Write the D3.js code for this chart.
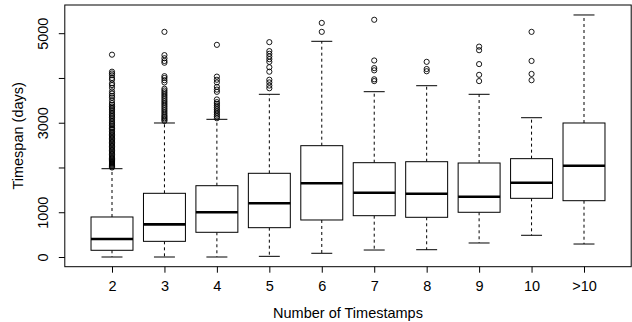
<!DOCTYPE html>
<html><head><meta charset="utf-8">
<script src="https://cdn.jsdelivr.net/npm/d3@7"></script>
<style>body{margin:0;background:#fff}svg{display:block}text{font-family:"Liberation Sans",Arial,sans-serif;fill:#000}</style>
</head><body>
<script>
const categories = ["2","3","4","5","6","7","8","9","10",">10"];
const lowerWhisker = [0, 0, 0, 15, 83, 156, 163, 313, 485, 290];
const q1 =           [150, 350, 552, 655, 827, 923, 887, 999, 1311, 1258];
const median =       [402, 730, 999, 1200, 1647, 1437, 1414, 1347, 1660, 2040];
const q3 =           [894, 1423, 1593, 1870, 2487, 2107, 2129, 2100, 2197, 2994];
const upperWhisker = [1973, 2994, 3076, 3635, 4819, 3693, 3827, 3635, 3112, 5407];
const outliers = [
  [4520,4140,4100,4060,4000,3960,3880,3840,3780,3700,3650,3600,3560,3500,3440,3400,3360,3330,3300,3260,3220,3180,3150,3120,3080,3040,3000,2970,2940,2900,2870,2840,2800,2770,2740,2710,2680,2650,2620,2590,2560,2530,2500,2470,2440,2410,2380,2350,2320,2290,2260,2230,2200,2180,2160,2140,2120,2100,2080,2060,2040,2020,2000],
  [5030,4510,4440,4380,4340,4040,4000,3950,3900,3760,3720,3680,3640,3600,3560,3520,3480,3440,3400,3360,3320,3280,3240,3200,3160,3130,3100,3070,3040],
  [4740,4030,3960,3900,3800,3740,3690,3520,3460,3420,3380,3340,3300,3260,3220,3180,3140,3100],
  [4800,4600,4540,4480,4420,4360,4240,4140,3960,3900,3830,3770],
  [5230,5030],
  [5300,4390,4220,4170,3970,3930],
  [4360,4200,4150],
  [4700,4620,4310,4070,3930],
  [5030,4380,4090,3950],
  []
];
const yTicks = [0,1000,2000,3000,4000,5000];
const yTickLabels = ["0","1000","","3000","","5000"];
const xTitle = "Number of Timestamps";
const yTitle = "Timespan (days)";

(function () {
const W = 632, H = 322, FS = "14.5px";
const svg = d3.select("body").append("svg").attr("width", W).attr("height", H);

const x = d3.scaleLinear().domain([1, 10]).range([112, 584]);
const y = d3.scaleLinear().domain([0, 5000]).range([257, 33.2]);
const pl = x(0.1), pr = x(10.9), pt = 5, pb = 266.7;
const unit = x(2) - x(1);
const bw = unit * 0.8, sw = bw / 2;

svg.append("rect").attr("x", pl).attr("y", pt).attr("width", pr - pl).attr("height", pb - pt)
  .attr("fill", "none").attr("stroke", "#000").attr("stroke-width", 1);

const g = svg.append("g");
categories.forEach((c, i) => {
  const cx = x(i + 1);
  const gg = g.append("g");
  gg.append("line").attr("x1", cx).attr("x2", cx).attr("y1", y(q3[i])).attr("y2", y(upperWhisker[i]))
    .attr("stroke", "#000").attr("stroke-dasharray", "3,3");
  gg.append("line").attr("x1", cx).attr("x2", cx).attr("y1", y(q1[i])).attr("y2", y(lowerWhisker[i]))
    .attr("stroke", "#000").attr("stroke-dasharray", "3,3");
  gg.append("line").attr("x1", cx - sw/2).attr("x2", cx + sw/2).attr("y1", y(upperWhisker[i])).attr("y2", y(upperWhisker[i]))
    .attr("stroke", "#000");
  gg.append("line").attr("x1", cx - sw/2).attr("x2", cx + sw/2).attr("y1", y(lowerWhisker[i])).attr("y2", y(lowerWhisker[i]))
    .attr("stroke", "#000");
  gg.append("rect").attr("x", cx - bw/2).attr("y", y(q3[i])).attr("width", bw).attr("height", y(q1[i]) - y(q3[i]))
    .attr("fill", "#fff").attr("stroke", "#000");
  gg.append("line").attr("x1", cx - bw/2).attr("x2", cx + bw/2).attr("y1", y(median[i])).attr("y2", y(median[i]))
    .attr("stroke", "#000").attr("stroke-width", 2.6);
  gg.selectAll("circle").data(outliers[i]).join("circle")
    .attr("cx", cx).attr("cy", d => y(d)).attr("r", 2.6)
    .attr("fill", "none").attr("stroke", "#000").attr("stroke-width", 0.9);
});

const xa = svg.append("g").attr("transform", `translate(0,${pb})`)
  .call(d3.axisBottom(x).tickValues(d3.range(1, 11)).tickFormat((d) => categories[d - 1]).tickSize(6).tickPadding(8));
xa.select(".domain").remove();
xa.selectAll("text").style("font-size", FS).attr("font-family", null);
xa.selectAll("line").attr("stroke", "#000");

const ya = svg.append("g").attr("transform", `translate(${pl},0)`)
  .call(d3.axisLeft(y).tickValues(yTicks).tickFormat((d, i) => yTickLabels[i]).tickSize(6).tickPadding(0));
ya.select(".domain").remove();
ya.selectAll("line").attr("stroke", "#000");
ya.selectAll("text").style("font-size", FS).attr("font-family", null)
  .attr("x", null).attr("dy", null)
  .attr("transform", "translate(-22,0) rotate(-90)").attr("text-anchor", "middle").attr("dominant-baseline", "central");

svg.append("text").attr("x", (pl + pr) / 2).attr("y", 318).attr("text-anchor", "middle")
  .style("font-size", FS).text(xTitle);
svg.append("text").attr("transform", `translate(18,${(pt + pb) / 2}) rotate(-90)`).attr("text-anchor", "middle")
  .attr("dominant-baseline", "central").style("font-size", FS).text(yTitle);
})();
</script>
</body></html>
